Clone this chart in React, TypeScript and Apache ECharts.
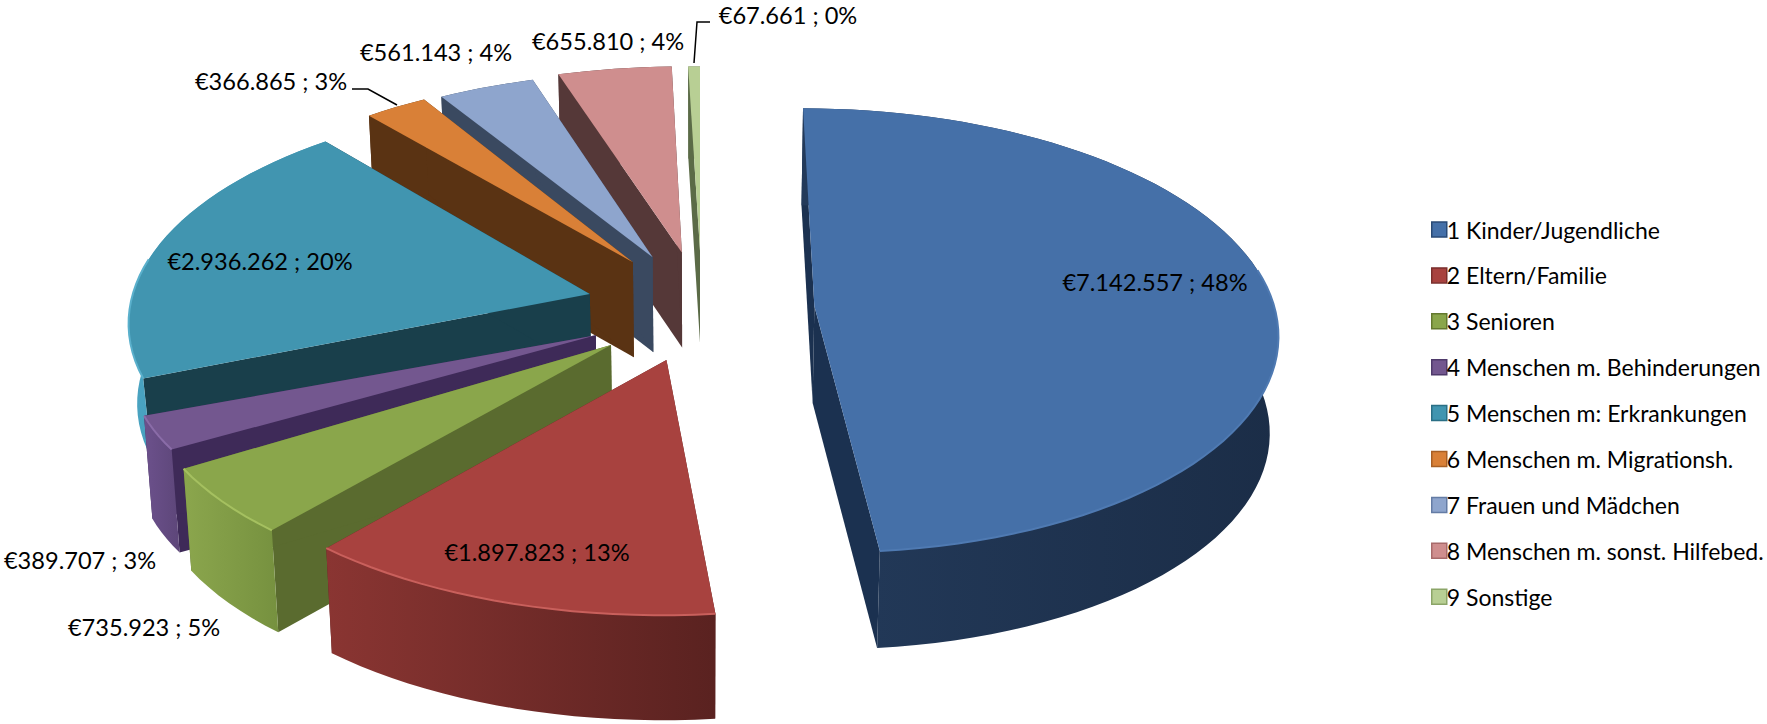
import React, { useEffect, useRef } from "react";
import * as echarts from "echarts";

const categories = [
  "1 Kinder/Jugendliche",
  "2 Eltern/Familie",
  "3 Senioren",
  "4 Menschen m. Behinderungen",
  "5 Menschen m: Erkrankungen",
  "6 Menschen m. Migrationsh.",
  "7 Frauen und Mädchen",
  "8 Menschen m. sonst. Hilfebed.",
  "9 Sonstige",
];
const amounts = [7142557, 1897823, 735923, 389707, 2936262, 366865, 561143, 655810, 67661];
const percents = [48, 13, 5, 3, 20, 3, 4, 4, 0];

const topColors = ["#4570A8", "#A8423F", "#8AA64B", "#73578F", "#4195B0", "#D98037", "#8EA5CD", "#CF8E8E", "#B8CF94"];
const rimColors = ["#4F7AB2", "#C9605C", "#A5C060", "#8A6CA8", "#5AB0CC", "#D98037", "#8EA5CD", "#CF8E8E", "#B8CF94"];
const innerColors = ["#1B3150", "#5C2321", "#5A6B2F", "#3E2A58", "#193F4B", "#5A3313", "#3A4960", "#553838", "#5B6B47"];
const wallFrom = ["#233A5A", "#8A3532", "#8BA64D", "#6C518C", "#49A3C1", "#5A3313", "#3A4960", "#553838", "#5B6B47"];
const wallTo = ["#1B2D47", "#5A2220", "#76913F", "#5D4679", "#3E93B0", "#5A3313", "#3A4960", "#553838", "#5B6B47"];
const legendEdge = ["#2A4A75", "#7A2E2C", "#64792F", "#4F3A6B", "#2A6F85", "#A85F24", "#647CA5", "#A86A6A", "#8BA568"];

// Perspective of the pie's plane on screen.
const CX = 700;
const CY = 290;
const FX = 463;
const FY = 198;
const P = 0.1;
const WALL_SHRINK = 0.985;

// Explosion and radii of each slice in the pie's plane, wall height in pixels.
const sliceGeo = [
  { dx: 0.245, dy: 0.08, rx: 0.985, ry: 1.09, h: 97 },
  { dx: -0.07, dy: 0.341, rx: 0.99, ry: 1.07, h: 105 },
  { dx: -0.187, dy: 0.27, rx: 0.98, ry: 1.07, h: 102 },
  { dx: -0.22, dy: 0.224, rx: 0.98, ry: 1.0, h: 103 },
  { dx: -0.2376, dy: 0.02, rx: 0.985, ry: 1.09, h: 80 },
  { dx: -0.147, dy: -0.142, rx: 0.985, ry: 1.08, h: 95 },
  { dx: -0.104, dy: -0.168, rx: 0.99, ry: 1.07, h: 95 },
  { dx: -0.04, dy: -0.193, rx: 1.0, ry: 1.08, h: 95 },
  { dx: 0, dy: -0.203, rx: 1.0, ry: 1.07, h: 92 },
];
const labelPos = [
  [1155, 282], [537, 552], [144, 627], [80, 560], [260, 261],
  [271, 81], [436, 52], [608, 41], [788, 15],
];
const leaders: Record<number, number[][]> = {
  5: [[397, 105], [368, 89], [352, 89]],
  8: [[694, 63], [697, 22], [710, 22]],
};

const total = amounts.reduce((a, b) => a + b, 0);
const FONT = "Lato";

function project(X: number, Y: number) {
  const s = 1 / (1 - P * Y);
  return [CX + FX * X * s, CY + FY * Y * s];
}
function drop(pt: number[], h: number) {
  return [CX + (pt[0] - CX) * WALL_SHRINK, pt[1] + h];
}
function formatAmount(v: number) {
  return "€" + String(v).replace(/\B(?=(\d{3})+$)/g, ".") + " ; ";
}

function renderSlice(i: number) {
  return () => {
    const before = amounts.slice(0, i).reduce((a, b) => a + b, 0);
    const a0 = (before / total) * Math.PI * 2;
    const a1 = ((before + amounts[i]) / total) * Math.PI * 2;
    const g = sliceGeo[i];
    const apex = project(g.dx, g.dy);
    const steps = Math.max(4, Math.ceil(((a1 - a0) / (Math.PI * 2)) * 160));
    const rim: number[][] = [];
    const frontRim: number[][] = [];
    for (let k = 0; k <= steps; k++) {
      const a = a0 + ((a1 - a0) * k) / steps;
      const pt = project(g.dx + g.rx * Math.sin(a), g.dy - g.ry * Math.cos(a));
      rim.push(pt);
      if (-Math.cos(a) > -0.2) frontRim.push(pt);
    }
    const rimLow = rim.map((p) => drop(p, g.h));
    const apexLow = drop(apex, g.h);
    const first = rim[0];
    const last = rim[rim.length - 1];
    const children: any[] = [
      { type: "polygon", shape: { points: [apex, first, drop(first, g.h), apexLow] }, style: { fill: innerColors[i] } },
      { type: "polygon", shape: { points: [apex, last, drop(last, g.h), apexLow] }, style: { fill: innerColors[i] } },
      {
        type: "polygon",
        shape: { points: [...rim, ...rimLow.slice().reverse()] },
        style: {
          fill: {
            type: "linear", x: 0, y: 0, x2: 1, y2: 0,
            colorStops: [{ offset: 0, color: wallFrom[i] }, { offset: 1, color: wallTo[i] }],
          },
        },
      },
      { type: "polygon", shape: { points: [apex, ...rim] }, style: { fill: topColors[i] } },
    ];
    if (frontRim.length > 1) {
      children.push({ type: "polyline", shape: { points: frontRim }, style: { fill: "none", stroke: rimColors[i], lineWidth: 2 } });
    }
    if (leaders[i]) {
      children.push({ type: "polyline", shape: { points: leaders[i] }, style: { fill: "none", stroke: "#000", lineWidth: 1.5 } });
    }
    children.push({
      type: "text",
      style: {
        text: formatAmount(amounts[i]) + percents[i] + "%",
        x: labelPos[i][0],
        y: labelPos[i][1],
        align: "center",
        verticalAlign: "middle",
        fontFamily: FONT,
        fontSize: 23.6,
        fill: "#000",
      },
    });
    return { type: "group", children };
  };
}

export default function App() {
  const ref = useRef<HTMLDivElement>(null);
  useEffect(() => {
    const chart = echarts.init(ref.current!, undefined, { renderer: "svg" });
    chart.setOption({
      animation: false,
      backgroundColor: "#fff",
      legend: {
        orient: "vertical",
        left: 1431,
        top: 218,
        padding: 0,
        itemWidth: 15,
        itemHeight: 15,
        itemGap: 22.9,
        selectedMode: false,
        icon: "rect",
        textStyle: { fontFamily: FONT, fontSize: 23, color: "#000", lineHeight: 15, padding: [0, 0, 0, -5] },
        data: categories.map((name, i) => ({
          name,
          itemStyle: { color: topColors[i], borderColor: legendEdge[i], borderWidth: 1.5 },
        })),
      },
      series: categories.map((name, i) => ({
        type: "custom",
        name,
        coordinateSystem: "none",
        silent: true,
        z: 10 - i,
        itemStyle: { color: topColors[i] },
        data: [[amounts[i]]],
        renderItem: renderSlice(i),
      })),
    });
    return () => chart.dispose();
  }, []);
  return <div ref={ref} style={{ position: "fixed", left: 0, top: 0, width: 1767, height: 724 }} />;
}
